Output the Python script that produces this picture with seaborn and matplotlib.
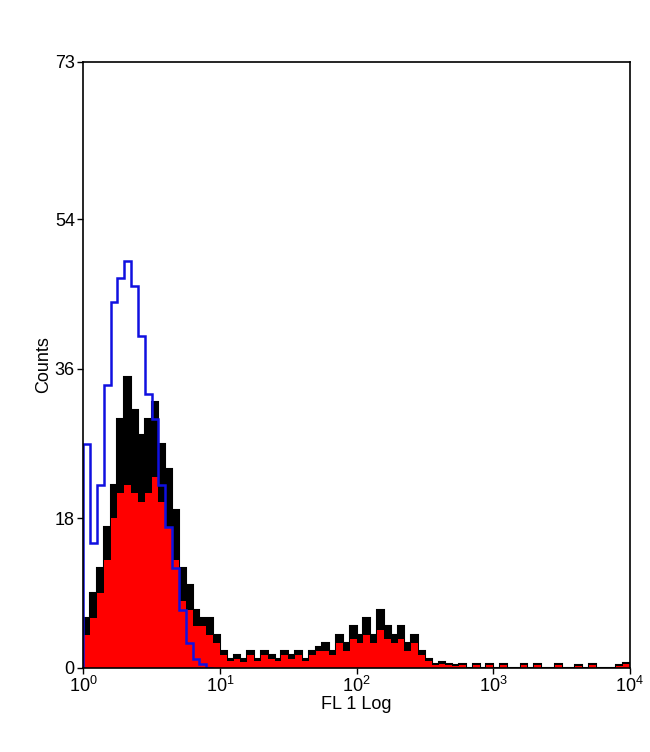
import matplotlib
matplotlib.use("Agg")
import matplotlib.pyplot as plt
import seaborn as sns
import numpy as np

# Histogram counts per log bin (20 bins per decade, 10^0 .. 10^4)
black_counts = [6, 9, 12, 17, 22, 30, 35, 31, 28, 30, 32, 27, 24, 19, 12, 10, 7, 6, 6, 4,
                2, 1, 1.5, 1, 2, 1, 2, 1.5, 1, 2, 1.5, 2, 1, 2, 2.5, 3, 2, 4, 3, 5,
                4, 6, 4, 7, 5, 4, 5, 3, 4, 2, 1, 0.5, 0.7, 0.5, 0.3, 0.5, 0, 0.5, 0, 0.4,
                0, 0.5, 0, 0, 0.5, 0, 0.4, 0, 0, 0.5, 0, 0, 0.3, 0, 0.4, 0, 0, 0, 0.3, 0.6]
red_counts = [4, 6, 9, 13, 18, 21, 22, 21, 20, 21, 23, 20, 17, 13, 8, 7, 5, 5, 4, 3,
              1.5, 0.8, 1, 0.7, 1.5, 0.8, 1.5, 1, 0.8, 1.5, 1, 1.5, 0.8, 1.5, 2, 2, 1.5, 3, 2, 3.5,
              3, 4, 3, 4.5, 3.5, 3, 3.5, 2, 3, 1.5, 0.8, 0.3, 0.5, 0.3, 0.2, 0.3, 0, 0.3, 0, 0.3,
              0, 0.3, 0, 0, 0.3, 0, 0.3, 0, 0, 0.3, 0, 0, 0.2, 0, 0.3, 0, 0, 0, 0.2, 0.4]
blue_counts = [27, 15, 22, 34, 44, 47, 49, 46, 40, 33, 30, 22, 17, 12, 7, 3, 1, 0.5, 0]

y_ticks = [0, 18, 36, 54, 73]
x_ticks = [1, 10, 100, 1000, 10000]
x_labels = ["$10^0$", "$10^1$", "$10^2$", "$10^3$", "$10^4$"]

sns.set_style("white")
plt.rcParams['font.family'] = ['Liberation Sans', 'DejaVu Sans']
plt.rcParams['mathtext.fontset'] = 'custom'
plt.rcParams['mathtext.rm'] = 'Liberation Sans'
plt.rcParams['mathtext.it'] = 'Liberation Sans'

fig = plt.figure(figsize=(6.5, 7.52), dpi=100)
ax = fig.add_axes([0.128, 0.112, 0.841, 0.806])

edges = np.logspace(0, 4, len(black_counts) + 1)
ax.stairs(black_counts, edges, fill=True, color='black', linewidth=0)
ax.stairs(black_counts, edges, color='black', linewidth=1.5)
ax.stairs(red_counts, edges, fill=True, color='#ff0000', linewidth=0)
ax.stairs(blue_counts, edges[:len(blue_counts) + 1], color='#1010e0', linewidth=1.8)

ax.set_xscale('log')
ax.set_xlim(1, 10000)
ax.set_ylim(0, 73)
ax.set_xticks(x_ticks)
ax.set_xticklabels(x_labels)
ax.minorticks_off()
ax.set_yticks(y_ticks)
ax.tick_params(direction='out', length=4, width=1, labelsize=13, bottom=True, left=True,
               pad=2, colors='black')
for s in ax.spines.values():
    s.set_color('black')
    s.set_linewidth(1.2)
ax.set_xlabel('FL 1 Log', fontsize=13, labelpad=0, color='black')
ax.set_ylabel('Counts', fontsize=13, labelpad=2, color='black')

fig.savefig('out.png', dpi=100)
